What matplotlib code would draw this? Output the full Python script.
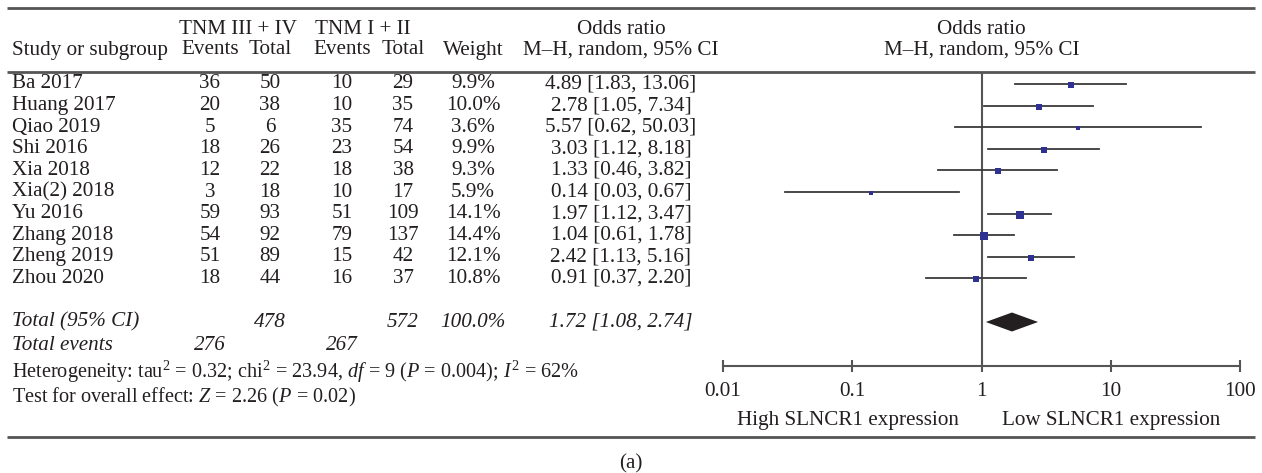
import numpy as np
import matplotlib.pyplot as plt

plt.rcParams['font.family'] = ['Liberation Serif', 'DejaVu Serif']
plt.rcParams['mathtext.fontset'] = 'custom'
plt.rcParams['mathtext.rm'] = 'Liberation Serif'
plt.rcParams['mathtext.it'] = 'Liberation Serif:italic'

studies = ['Ba 2017', 'Huang 2017', 'Qiao 2019', 'Shi 2016', 'Xia 2018',
           'Xia(2) 2018', 'Yu 2016', 'Zhang 2018', 'Zheng 2019', 'Zhou 2020']
ev_high = [36, 20, 5, 18, 12, 3, 59, 54, 51, 18]
tot_high = [50, 38, 6, 26, 22, 18, 93, 92, 89, 44]
ev_low = [10, 10, 35, 23, 18, 10, 51, 79, 15, 16]
tot_low = [29, 35, 74, 54, 38, 17, 109, 137, 42, 37]
weights = [9.9, 10.0, 3.6, 9.9, 9.3, 5.9, 14.1, 14.4, 12.1, 10.8]
odds = [4.89, 2.78, 5.57, 3.03, 1.33, 0.14, 1.97, 1.04, 2.42, 0.91]
ci_lo = [1.83, 1.05, 0.62, 1.12, 0.46, 0.03, 1.12, 0.61, 1.13, 0.37]
ci_hi = [13.06, 7.34, 50.03, 8.18, 3.82, 0.67, 3.47, 1.78, 5.16, 2.20]

pooled = (1.72, 1.08, 2.74)
total_high, total_low = 478, 572
events_high, events_low = 276, 267
xticks = [0.01, 0.1, 1, 10, 100]
xticklabels = ['0.01', '0.1', '1', '10', '100']

W, H = 1262, 473
fs = 15.2
rule_c = '#555555'
txt_c = '#231f20'
sq_c = '#2e3192'

fig = plt.figure(figsize=(W / 100, H / 100), dpi=100)

# background axes in pixel units for the table text and rules
bg = fig.add_axes([0, 0, 1, 1])
bg.set_xlim(0, W)
bg.set_ylim(H, 0)
bg.axis('off')

for yy in (8, 72, 437):
    bg.plot([7, 1255], [yy, yy], color=rule_c, lw=2, solid_capstyle='butt')

# column centres
c_ev1, c_tot1, c_ev2, c_tot2, c_w, c_or = 210, 270, 342, 403, 473, 621

def t(x, y, s, ha='center', size=fs, **kw):
    bg.text(x, y, s, ha=ha, va='center', fontsize=size, color=txt_c, **kw)

t(238, 29, 'TNM III + IV')
t(363, 29, 'TNM I + II')
t(c_or, 29, 'Odds ratio')
t(981, 29, 'Odds ratio')
t(12, 50, 'Study or subgroup', ha='left')
t(c_ev1, 50, 'Events')
t(c_tot1, 50, 'Total')
t(c_ev2, 50, 'Events')
t(c_tot2, 50, 'Total')
t(c_w, 50, 'Weight')
t(c_or, 50, 'M–H, random, 95% CI')
t(982, 50, 'M–H, random, 95% CI')

row_y = [84 + i * 21.6 for i in range(len(studies))]
for i, y in enumerate(row_y):
    t(12, y, studies[i], ha='left')
    t(c_ev1, y, str(ev_high[i]))
    t(c_tot1, y, str(tot_high[i]))
    t(c_ev2, y, str(ev_low[i]))
    t(c_tot2, y, str(tot_low[i]))
    t(c_w, y, f'{weights[i]:.1f}%')
    t(c_or, y, f'{odds[i]:.2f} [{ci_lo[i]:.2f}, {ci_hi[i]:.2f}]')

y_tot = 322
t(12, y_tot, 'Total (95% CI)', ha='left', style='italic')
t(c_tot1, y_tot, str(total_high), style='italic')
t(c_tot2, y_tot, str(total_low), style='italic')
t(c_w, y_tot, '100.0%', style='italic')
t(c_or, y_tot, f'{pooled[0]:.2f} [{pooled[1]:.2f}, {pooled[2]:.2f}]', style='italic')
t(12, 345, 'Total events', ha='left', style='italic')
t(c_ev1, 345, str(events_high), style='italic')
t(c_ev2, 345, str(events_low), style='italic')
t(12, 372, r'Heterogeneity: tau$^2$ = 0.32; chi$^2$ = 23.94, $df$ = 9 ($P$ = 0.004); $I^2$ = 62%',
  ha='left', size=14.6)
t(12, 397, r'Test for overall effect: $Z$ = 2.26 ($P$ = 0.02)', ha='left', size=14.6)
t(848, 420, 'High SLNCR1 expression')
t(1111, 420, 'Low SLNCR1 expression')
t(631, 464, '(a)')

# forest panel
x0, x1, ytop, ybot = 723, 1240, 72, 366
ax = fig.add_axes([x0 / W, 1 - ybot / H, (x1 - x0) / W, (ybot - ytop) / H])
ax.set_facecolor('none')
ax.set_xscale('log')
ax.set_xlim(0.01, 100)
ax.set_ylim(ybot, ytop)
for s in ('left', 'right', 'top'):
    ax.spines[s].set_visible(False)
ax.spines['bottom'].set_color(rule_c)
ax.spines['bottom'].set_linewidth(1.5)
ax.set_yticks([])
ax.set_xticks(xticks)
ax.set_xticklabels(xticklabels)
ax.minorticks_off()
ax.tick_params(axis='x', direction='inout', length=9, width=1.5, color=rule_c,
               pad=7, labelsize=fs, labelcolor=txt_c)
ax.axvline(1, color=rule_c, lw=1.5, zorder=1)

for i, y in enumerate(row_y):
    ax.plot([ci_lo[i], ci_hi[i]], [y, y], color='#3a3a3a', lw=1.3, zorder=2)
    side = np.sqrt(weights[i]) * 1.9 * 0.72
    ax.plot(odds[i], y + 1, marker='s', ms=side, color=sq_c, mew=0, zorder=3)

dh = 9.5
ax.fill([pooled[1], pooled[0], pooled[2], pooled[0]],
        [y_tot, y_tot - dh, y_tot, y_tot + dh], color=txt_c, lw=0, zorder=3)

fig.savefig('out.png', dpi=100)
